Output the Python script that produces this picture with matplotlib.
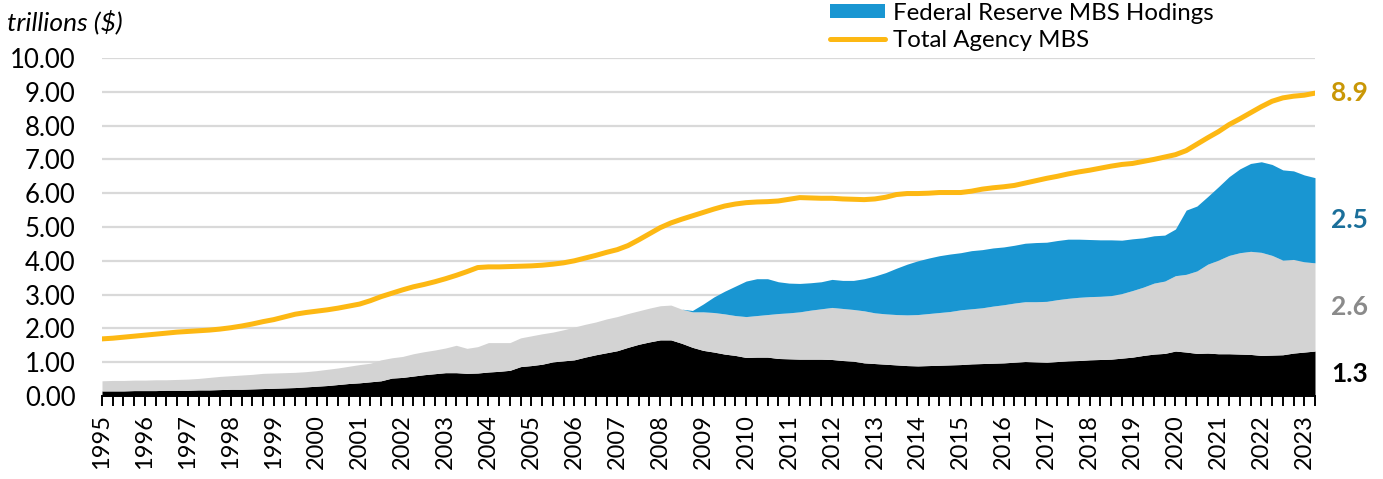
#!/usr/bin/env python3
"""
Agency MBS outstanding vs. Federal Reserve MBS holdings, 1995-2023 (quarterly)
Stacked holdings bands with the total agency MBS line on top.
"""

import matplotlib.pyplot as plt
from matplotlib.lines import Line2D
from matplotlib.patches import Patch
import numpy as np
import pandas as pd

plt.rcParams['font.family'] = ['Lato', 'DejaVu Sans']

# Color scheme
COLORS = {
    'black': '#000000',      # bottom band
    'gray': '#d3d3d3',       # middle band
    'fed': '#1996d2',        # Federal Reserve holdings
    'total': '#fdb813',      # Total agency MBS line
    'grid': '#d9d9d9',
    'lbl_total': '#c99706',
    'lbl_fed': '#1b6f9a',
    'lbl_gray': '#8a8a8a',
}

# Quarterly data, 1995Q1 - 2023Q2, trillions of dollars
quarters = pd.period_range('1995Q1', '2023Q2', freq='Q')

total_agency_mbs = [
    1.69, 1.71, 1.74, 1.77,  1.80, 1.83, 1.86, 1.89,  1.91, 1.93, 1.95, 1.98,
    2.02, 2.07, 2.13, 2.20,  2.26, 2.34, 2.42, 2.47,  2.51, 2.55, 2.60, 2.66,
    2.72, 2.82, 2.94, 3.04,  3.14, 3.23, 3.30, 3.38,  3.47, 3.57, 3.68, 3.80,
    3.82, 3.82, 3.83, 3.84,  3.85, 3.87, 3.90, 3.94,  4.00, 4.08, 4.16, 4.25,
    4.33, 4.45, 4.62, 4.80,  4.98, 5.12, 5.23, 5.33,  5.43, 5.53, 5.62, 5.68,
    5.72, 5.74, 5.75, 5.77,  5.82, 5.87, 5.86, 5.85,  5.85, 5.83, 5.82, 5.81,
    5.83, 5.88, 5.96, 5.99,  5.99, 6.00, 6.02, 6.02,  6.02, 6.06, 6.12, 6.16,
    6.19, 6.23, 6.30, 6.37,  6.44, 6.50, 6.57, 6.63,  6.68, 6.74, 6.80, 6.85,
    6.88, 6.94, 7.00, 7.07,  7.14, 7.26, 7.45, 7.64,  7.82, 8.03, 8.20, 8.38,
    8.56, 8.72, 8.82, 8.87,  8.90, 8.96,
]

# top edge of the black (bottom) band
black_band_top = [
    0.15, 0.15, 0.15, 0.16,  0.16, 0.16, 0.17, 0.17,  0.17, 0.18, 0.18, 0.19,
    0.20, 0.20, 0.21, 0.22,  0.23, 0.24, 0.25, 0.27,  0.29, 0.31, 0.34, 0.37,
    0.39, 0.42, 0.45, 0.53,  0.55, 0.59, 0.63, 0.66,  0.69, 0.69, 0.67, 0.68,
    0.71, 0.73, 0.76, 0.87,  0.90, 0.94, 1.01, 1.04,  1.07, 1.15, 1.22, 1.28,
    1.34, 1.44, 1.53, 1.60,  1.66, 1.66, 1.56, 1.44,  1.35, 1.30, 1.24, 1.20,
    1.14, 1.15, 1.15, 1.11,  1.10, 1.09, 1.09, 1.09,  1.08, 1.05, 1.03, 0.98,
    0.96, 0.94, 0.92, 0.90,  0.89, 0.90, 0.91, 0.92,  0.93, 0.95, 0.96, 0.97,
    0.98, 1.00, 1.02, 1.01,  1.00, 1.02, 1.04, 1.05,  1.07, 1.08, 1.09, 1.12,
    1.15, 1.20, 1.24, 1.26,  1.33, 1.30, 1.26, 1.27,  1.25, 1.25, 1.24, 1.23,
    1.20, 1.21, 1.22, 1.27,  1.30, 1.33,
]

# top edge of the gray (middle) band
gray_band_top = [
    0.45, 0.46, 0.46, 0.47,  0.47, 0.48, 0.48, 0.49,  0.50, 0.52, 0.55, 0.58,
    0.60, 0.62, 0.64, 0.67,  0.68, 0.69, 0.70, 0.72,  0.75, 0.79, 0.83, 0.88,
    0.93, 0.97, 1.07, 1.13,  1.17, 1.25, 1.31, 1.36,  1.42, 1.50, 1.41, 1.46,
    1.58, 1.58, 1.58, 1.72,  1.78, 1.84, 1.89, 1.96,  2.04, 2.12, 2.19, 2.28,
    2.35, 2.44, 2.52, 2.60,  2.67, 2.69, 2.57, 2.49,  2.49, 2.47, 2.43, 2.38,
    2.35, 2.38, 2.41, 2.44,  2.46, 2.49, 2.54, 2.58,  2.62, 2.59, 2.56, 2.52,
    2.46, 2.43, 2.41, 2.40,  2.41, 2.44, 2.47, 2.50,  2.55, 2.58, 2.61, 2.66,
    2.70, 2.75, 2.79, 2.79,  2.80, 2.85, 2.89, 2.92,  2.94, 2.95, 2.97, 3.03,
    3.12, 3.22, 3.34, 3.40,  3.56, 3.60, 3.70, 3.90,  4.02, 4.16, 4.24, 4.28,
    4.25, 4.16, 4.02, 4.04,  3.97, 3.94,
]

# top edge of the Fed band, from 2008Q3 on
fed_start = '2008Q3'
fed_band_top = [
    2.57, 2.53,
    2.72, 2.93, 3.10, 3.25,  3.40, 3.47, 3.47, 3.38,  3.34, 3.33, 3.35, 3.38,
    3.45, 3.42, 3.42, 3.47,  3.55, 3.65, 3.78, 3.90,  4.00, 4.08, 4.15, 4.20,
    4.24, 4.30, 4.33, 4.38,  4.41, 4.46, 4.52, 4.54,  4.55, 4.60, 4.64, 4.64,
    4.63, 4.62, 4.62, 4.61,  4.65, 4.68, 4.74, 4.76,  4.94, 5.50, 5.62, 5.90,
    6.19, 6.49, 6.72, 6.88,  6.93, 6.85, 6.69, 6.66,  6.54, 6.46,
]

# latest values printed at the right edge (total, fed, gray, black)
end_labels = ['8.9', '2.5', '2.6', '1.3']

years = list(range(1995, 2024))


def create_mbs_chart(output_path='out.png'):
    x = (quarters.year + (quarters.quarter - 1) / 4).to_numpy(dtype=float)
    black = np.array(black_band_top)
    gray = np.array(gray_band_top)
    total = np.array(total_agency_mbs)
    i0 = quarters.get_loc(pd.Period(fed_start, freq='Q'))
    fed = np.array(fed_band_top)

    fig = plt.figure(figsize=(13.83, 4.79), dpi=100)
    W, H = 1383, 479
    ax = fig.add_axes([102 / W, 1 - 396 / H, (1315 - 102) / W, (396 - 58) / H])

    ax.fill_between(x, 0, black, color=COLORS['black'], lw=0)
    ax.fill_between(x, black, gray, color=COLORS['gray'], lw=0)
    ax.fill_between(x[i0:], gray[i0:], fed, color=COLORS['fed'], lw=0)
    ax.plot(x, total, color=COLORS['total'], lw=3.6, solid_capstyle='round')

    ax.set_xlim(x[0], x[-1])
    ax.set_ylim(0, 10)

    # y axis
    ax.set_yticks(np.arange(0, 11, 1))
    ax.set_yticklabels([f'{v:.2f}' for v in range(11)])
    ax.tick_params(axis='y', length=0, pad=19, labelsize=18.5)
    ax.grid(True, axis='y', color=COLORS['grid'], lw=1.6)
    ax.set_axisbelow(True)

    # x axis: year labels, quarterly ticks
    ax.set_xticks(years)
    ax.set_xticklabels([str(y) for y in years], rotation=90)
    ax.set_xticks(x, minor=True)
    ax.tick_params(axis='x', which='both', length=7, width=1.4,
                   color='black', direction='out')
    ax.tick_params(axis='x', which='major', labelsize=17, pad=6)

    for side in ['left', 'right', 'top']:
        ax.spines[side].set_visible(False)
    ax.spines['bottom'].set_linewidth(1.4)
    ax.spines['bottom'].set_zorder(5)

    # end-of-series labels, centred on the line / middle of each band
    tr = ax.get_yaxis_transform()
    xl = 1.013
    label_y = [total[-1], (gray[-1] + fed[-1]) / 2,
               (black[-1] + gray[-1]) / 2, black[-1] / 2]
    label_c = [COLORS['lbl_total'], COLORS['lbl_fed'], COLORS['lbl_gray'], 'black']
    for txt, yv, c in zip(end_labels, label_y, label_c):
        ax.text(xl, yv, txt, transform=tr, va='center', fontsize=19,
                fontweight='bold', color=c)

    # unit label
    fig.text(7 / W, 1 - 22 / H, 'trillions ($)', fontsize=19, style='italic',
             va='center', ha='left')

    # legend
    handles = [Patch(facecolor=COLORS['fed'], edgecolor='none'),
               Line2D([0], [0], color=COLORS['total'], lw=3.6,
                      solid_capstyle='round')]
    fig.legend(handles, ['Federal Reserve MBS Hodings', 'Total Agency MBS'],
               loc='upper left', bbox_to_anchor=(820 / W, 1 + 7 / H),
               frameon=False, fontsize=17.3, handlelength=2.3, handleheight=0.5,
               handletextpad=0.35, labelspacing=0.26, borderaxespad=0)

    fig.savefig(output_path, dpi=100, facecolor='white')
    plt.close(fig)


if __name__ == '__main__':
    create_mbs_chart('out.png')
